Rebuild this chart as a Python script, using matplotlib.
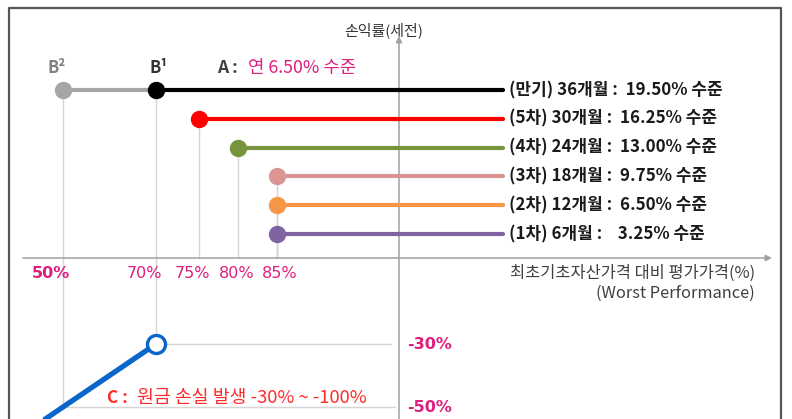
import numpy as np
import matplotlib.pyplot as plt
from matplotlib.lines import Line2D

plt.rcParams['font.family'] = ['Noto Sans CJK KR', 'DejaVu Sans']

# --- Data ---
periods = ['(1차) 6개월', '(2차) 12개월', '(3차) 18개월', '(4차) 24개월', '(5차) 30개월', '(만기) 36개월']
barriers = [85, 85, 85, 80, 75, 70]          # 조기상환 / 만기 배리어 (%)
coupons = [3.25, 6.50, 9.75, 13.00, 16.25, 19.50]  # 수익률 (%)
line_colors = ['#8064a2', '#f79646', '#d99694', '#77933c', '#ff0000', '#000000']

knock_in = 50            # B2
maturity_barrier = 70    # B1
payoff_end = 115         # 선 끝 (평가가격 %)
tick_levels = [50, 70, 75, 80, 85]
tick_labels = ['50%', '70%', '75%', '80%', '85%']

loss_x = [70, 45]
loss_y = [-30, -55]
loss_levels = [-30, -50]
loss_labels = ['-30%', '-50%']

MAGENTA = '#dd1f7f'
GUIDE = '#d4d4d4'
AXIS = '#a0a0a0'
PCT_FONT = ['DejaVu Sans']

# schematic (non-linear) scales, knots in pixels
X_PCT = [0, 50, 70, 75, 80, 85, 100, 115, 200]
X_PX = [-170, 63, 156, 199, 238, 277, 399, 503, 1092]
Y_RET = [-100, -50, -30, 0, 3.25, 19.5, 40]
Y_PX = [-146, 12, 75, 161, 185, 329, 511]


def fx(v):
    return np.interp(np.asarray(v, dtype=float), X_PCT, X_PX)


def fx_inv(v):
    return np.interp(np.asarray(v, dtype=float), X_PX, X_PCT)


def fy(v):
    return np.interp(np.asarray(v, dtype=float), Y_RET, Y_PX)


def fy_inv(v):
    return np.interp(np.asarray(v, dtype=float), Y_PX, Y_RET)


fig = plt.figure(figsize=(7.92, 4.19), dpi=100)
ax = fig.add_axes([0, 0, 1, 1])
ax.set_xscale('function', functions=(fx, fx_inv))
ax.set_yscale('function', functions=(fy, fy_inv))
ax.set_xlim(fx_inv(0), fx_inv(792))
ax.set_ylim(fy_inv(0), fy_inv(419))
ax.axis('off')

# frame
W, H = 792, 419
frame = Line2D([9 / W, 9 / W, 781 / W, 781 / W], [-0.1, 1 - 8 / H, 1 - 8 / H, -0.1],
               transform=ax.transAxes, color='#555555', lw=1.6, clip_on=False)
ax.add_line(frame)

# guide lines
ax.plot([knock_in, knock_in], [coupons[-1], loss_levels[1]], color=GUIDE, lw=1, zorder=1)
ax.plot([maturity_barrier, maturity_barrier], [coupons[-1], loss_levels[0]], color=GUIDE, lw=1, zorder=1)
for b, c in zip(barriers[:-1], coupons[:-1]):
    ax.plot([b, b], [c, 0], color=GUIDE, lw=1, zorder=1)
ax.plot([maturity_barrier, 99], [loss_levels[0]] * 2, color=GUIDE, lw=1, zorder=1)
ax.plot([knock_in, 99.5], [loss_levels[1]] * 2, color=GUIDE, lw=1, zorder=1)

# axes arrows
arrow = dict(arrowstyle='-|>', color=AXIS, lw=1.1, mutation_scale=9, shrinkA=0, shrinkB=0)
ax.annotate('', xy=(772 / W, 0), xytext=(23 / W, 0),
            xycoords=('axes fraction', 'data'), textcoords=('axes fraction', 'data'),
            arrowprops=arrow)
ax.annotate('', xy=(100, 1 - 36 / H), xytext=(100, 0),
            xycoords=('data', 'axes fraction'), textcoords=('data', 'axes fraction'),
            arrowprops=arrow)

# B2 -> B1 grey segment
ax.plot([knock_in, maturity_barrier], [coupons[-1]] * 2, color='#a6a6a6', lw=3,
        solid_capstyle='butt', zorder=3)
ax.plot([knock_in], [coupons[-1]], 'o', color='#a6a6a6', ms=11.5, zorder=4)

# coupon lines
for p, b, c, col in zip(periods, barriers, coupons, line_colors):
    ax.plot([b, payoff_end], [c, c], color=col, lw=3, solid_capstyle='round', zorder=3)
    ax.plot([b], [c], 'o', color=col, ms=11.5, zorder=4)
    gap = '   ' if c < 5 else ' '
    ax.annotate(f'{p} : {gap}{c:.2f}% 수준', xy=(payoff_end, c), xytext=(6, 0),
                textcoords='offset pixels', ha='left', va='center',
                fontsize=12.2, fontweight='bold', color='#1a1a1a')

# loss line
ax.plot(loss_x, loss_y, color='#0a66c8', lw=3.8, solid_capstyle='butt', zorder=3)
ax.plot(loss_x[:1], loss_y[:1], 'o', mfc='white', mec='#0a66c8', mew=2.4, ms=13, zorder=5)

# tick labels
nudge = [-12, -12, -7, -1, 3]
for lv, lb, dx in zip(tick_levels, tick_labels, nudge):
    ax.annotate(lb, xy=(lv, 0), xytext=(dx, -15), textcoords='offset pixels',
                ha='center', va='center', fontsize=11.5, color=MAGENTA, family=PCT_FONT,
                fontweight='bold' if lv == knock_in else 'normal')

for lv, lb in zip(loss_levels, loss_labels):
    ax.annotate(lb, xy=(100, lv), xytext=(8, 0), textcoords='offset pixels',
                ha='left', va='center', fontsize=11.5, color=MAGENTA, fontweight='bold',
                family=PCT_FONT)

# annotations
ax.annotate('B²', xy=(knock_in, coupons[-1]), xytext=(-6, 22), textcoords='offset pixels',
            ha='center', va='center', fontsize=12, fontweight='bold', color='#808080')
ax.annotate('B¹', xy=(maturity_barrier, coupons[-1]), xytext=(3, 22), textcoords='offset pixels',
            ha='center', va='center', fontsize=12, fontweight='bold', color='#333333')
ax.annotate('A :', xy=(maturity_barrier, coupons[-1]), xytext=(61, 22), textcoords='offset pixels',
            ha='left', va='center', fontsize=12.5, fontweight='bold', color='#404040')
ax.annotate('연 6.50% 수준', xy=(maturity_barrier, coupons[-1]), xytext=(92, 22),
            textcoords='offset pixels', ha='left', va='center', fontsize=12.8, color=MAGENTA)

ax.annotate('C :', xy=(maturity_barrier, loss_levels[1]), xytext=(-49, 9), textcoords='offset pixels',
            ha='left', va='center', fontsize=12.5, fontweight='bold', color='#ff2a2a')
ax.annotate('원금 손실 발생 -30% ~ -100%', xy=(maturity_barrier, loss_levels[1]), xytext=(-19, 9),
            textcoords='offset pixels', ha='left', va='center', fontsize=13.2, color='#ff2a2a')

ax.annotate('손익률(세전)', xy=(100, 1 - 30 / H), xycoords=('data', 'axes fraction'),
            xytext=(-15, 0), textcoords='offset pixels',
            ha='center', va='center', fontsize=10.8, color='#333333')
ax.annotate('최초기초자산가격 대비 평가가격(%)\n(Worst Performance)', xy=(755 / W, 0),
            xycoords=('axes fraction', 'data'), xytext=(0, -25), textcoords='offset pixels',
            ha='right', va='center', fontsize=11.8, color='#404040', linespacing=1.2)

fig.savefig('out.png', dpi=100)
